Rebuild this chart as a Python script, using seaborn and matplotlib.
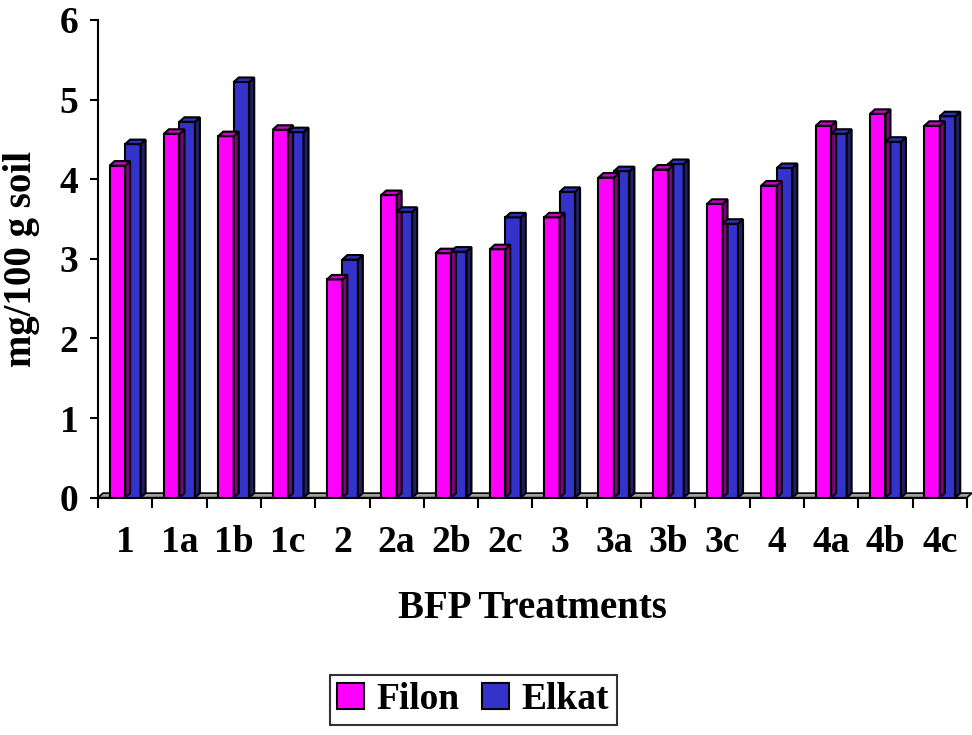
import matplotlib
matplotlib.use("Agg")
import matplotlib.pyplot as plt
from matplotlib.patches import Polygon, Patch
import pandas as pd
import seaborn as sns

treatments = ["1", "1a", "1b", "1c", "2", "2a", "2b", "2c",
              "3", "3a", "3b", "3c", "4", "4a", "4b", "4c"]
filon = [4.17, 4.57, 4.54, 4.62, 2.74, 3.80, 3.07, 3.12,
         3.52, 4.02, 4.12, 3.69, 3.92, 4.67, 4.82, 4.67]
elkat = [4.44, 4.72, 5.22, 4.59, 2.99, 3.59, 3.09, 3.52,
         3.84, 4.10, 4.19, 3.44, 4.14, 4.57, 4.47, 4.79]
series = ["Filon", "Elkat"]
front_colors = {"Filon": "#FF00FF", "Elkat": "#3333CC"}
top_colors = {"Filon": "#CC00CC", "Elkat": "#2E2EB8"}
side_colors = {"Filon": "#800080", "Elkat": "#1F1F66"}

df = pd.DataFrame({
    "Treatment": treatments * 2,
    "Series": ["Filon"] * len(treatments) + ["Elkat"] * len(treatments),
    "Value": filon + elkat,
})

sns.set_style("white")
plt.rcParams["font.family"] = ["Liberation Serif", "DejaVu Serif"]
plt.rcParams["font.weight"] = "bold"
plt.rcParams["text.color"] = "black"
plt.rcParams["xtick.color"] = "black"
plt.rcParams["ytick.color"] = "black"
plt.rcParams["axes.labelcolor"] = "black"

fig = plt.figure(figsize=(9.72, 7.35), dpi=100)
ax = fig.add_axes([0.1008, 0.3229, 0.894, 0.65])

sns.barplot(data=df, x="Treatment", y="Value", hue="Series",
            order=treatments, hue_order=series, palette=front_colors,
            saturation=1, width=0.57, edgecolor="black", linewidth=1.5,
            legend=False, ax=ax, zorder=3)

# extrusion depth for the pseudo-3D faces (data units)
dx, dy = 0.092, 0.057

# floor slab
floor = Polygon([(-0.5, 0), (15.5, 0), (15.5 + dx, dy), (-0.5 + dx, dy)],
                closed=True, facecolor="#A0A0A0", edgecolor="black",
                linewidth=1.2, zorder=2, clip_on=False)
ax.add_patch(floor)

for container, name in zip(ax.containers, series):
    for bar in container:
        x0 = bar.get_x()
        w = bar.get_width()
        h = bar.get_height()
        x1 = x0 + w
        top = Polygon([(x0, h), (x1, h), (x1 + dx, h + dy), (x0 + dx, h + dy)],
                      closed=True, facecolor=top_colors[name],
                      edgecolor="black", linewidth=1.5, zorder=3,
                      clip_on=False)
        side = Polygon([(x1, 0), (x1 + dx, dy), (x1 + dx, h + dy), (x1, h)],
                       closed=True, facecolor=side_colors[name],
                       edgecolor="black", linewidth=1.5, zorder=3,
                       clip_on=False)
        ax.add_patch(side)
        ax.add_patch(top)

ax.set_xlim(-0.5, 15.5)
ax.set_ylim(0, 6)
ax.set_yticks(range(0, 7))
ax.set_yticklabels([str(v) for v in range(0, 7)], fontsize=27, fontweight="bold")
ax.set_xticks(range(len(treatments)))
ax.set_xticklabels(treatments, fontsize=27, fontweight="bold")
ax.set_xticks([i - 0.5 for i in range(len(treatments) + 1)], minor=True)
ax.tick_params(axis="x", which="major", length=0, pad=20)
ax.tick_params(axis="x", which="minor", length=7, width=1.5, direction="out",
               color="black", bottom=True)
ax.tick_params(axis="y", length=6, width=1.5, direction="out", color="black",
               left=True, pad=8)

for s in ["top", "right"]:
    ax.spines[s].set_visible(False)
for s in ["left", "bottom"]:
    ax.spines[s].set_color("black")
    ax.spines[s].set_linewidth(1.5)

ax.set_xlabel("BFP Treatments", fontsize=28, fontweight="bold", labelpad=21)
ax.set_ylabel("mg/100 g soil", fontsize=28, fontweight="bold", labelpad=14)

handles = [Patch(facecolor=front_colors[n], edgecolor="black", linewidth=1.5)
           for n in series]
leg = fig.legend(handles, series, loc="center", bbox_to_anchor=(0.487, 0.048),
                 ncol=2, frameon=True, fancybox=False, edgecolor="black",
                 prop={"size": 27, "weight": "bold"}, handlelength=0.7,
                 handleheight=0.7, handletextpad=0.35, columnspacing=0.6,
                 borderpad=0.2)
leg.get_frame().set_linewidth(1.5)

fig.savefig("out.png", dpi=100, facecolor="white")
